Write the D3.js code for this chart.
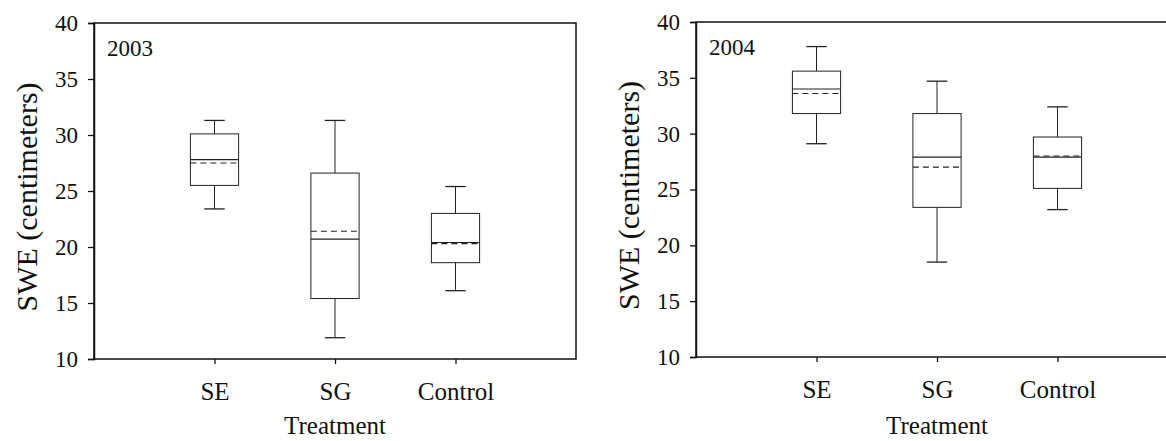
<!DOCTYPE html>
<html>
<head>
<meta charset="utf-8">
<script src="https://cdn.jsdelivr.net/npm/d3@7"></script>
<style>
  body { margin: 0; background: #fff; }
</style>
</head>
<body>
<svg id="chart" width="1166" height="441"></svg>
<script>
const categories = ["SE", "SG", "Control"];
const yTicks = [10, 15, 20, 25, 30, 35, 40];

// 2003
const lo2003 = [23.4, 11.9, 16.1];
const q1_2003 = [25.5, 15.4, 18.6];
const med2003 = [27.8, 20.7, 20.4];
const mean2003 = [27.5, 21.4, 20.3];
const q3_2003 = [30.1, 26.6, 23.0];
const hi2003 = [31.3, 31.3, 25.4];

// 2004
const lo2004 = [29.1, 18.5, 23.2];
const q1_2004 = [31.8, 23.4, 25.1];
const med2004 = [34.0, 27.9, 27.9];
const mean2004 = [33.6, 27.0, 28.0];
const q3_2004 = [35.6, 31.8, 29.7];
const hi2004 = [37.8, 34.7, 32.4];

const FONT = "'Liberation Serif', 'Times New Roman', Times, Tinos, 'Noto Serif', 'DejaVu Serif', FreeSerif, serif";
const svg = d3.select("svg#chart");

function toRows(lo, q1, med, mean, q3, hi) {
    return categories.map((c, i) => ({
        cat: c, pos: i + 1, lo: lo[i], q1: q1[i], med: med[i], mean: mean[i], q3: q3[i], hi: hi[i]
    }));
}

const panels = [
    {year: "2003", x0: 94, x1: 576, yTop: 23, yBot: 359,
     rows: toRows(lo2003, q1_2003, med2003, mean2003, q3_2003, hi2003)},
    {year: "2004", x0: 696, x1: 1178, yTop: 22, yBot: 357,
     rows: toRows(lo2004, q1_2004, med2004, mean2004, q3_2004, hi2004)}
];

panels.forEach(p => drawPanel(p));

function drawPanel(p) {
    const x = d3.scaleLinear().domain([0, 4]).range([p.x0, p.x1]);
    const y = d3.scaleLinear().domain([10, 40]).range([p.yBot, p.yTop]);
    const g = svg.append("g");
    const boxW = x(0.4) - x(0);
    const capW = x(0.17) - x(0);

    // frame
    g.append("rect")
        .attr("x", p.x0).attr("y", p.yTop)
        .attr("width", p.x1 - p.x0).attr("height", p.yBot - p.yTop)
        .attr("fill", "none").attr("stroke", "#111").attr("stroke-width", 1.5);

    const yAxis = g.append("g")
        .attr("transform", `translate(${p.x0},0)`)
        .call(d3.axisLeft(y).tickValues(yTicks).tickSize(6).tickPadding(10));
    yAxis.attr("font-family", null);
    yAxis.select(".domain").attr("stroke", "#111").attr("stroke-width", 1.5);
    yAxis.selectAll(".tick line").attr("stroke", "#111").attr("stroke-width", 1.3);
    yAxis.selectAll("text").style("font-family", FONT).style("font-size", "23px").attr("fill", "#111");

    const xAxis = g.append("g")
        .attr("transform", `translate(0,${p.yBot})`)
        .call(d3.axisBottom(x).tickValues([1, 2, 3]).tickFormat(d => categories[d - 1]).tickSize(5).tickPadding(18));
    xAxis.attr("font-family", null);
    xAxis.select(".domain").remove();
    xAxis.selectAll(".tick line").attr("stroke", "#111").attr("stroke-width", 1.3);
    xAxis.selectAll("text").style("font-family", FONT).style("font-size", "25px").attr("fill", "#111");

    // year label
    g.append("text")
        .attr("x", p.x0 + 13).attr("y", p.yTop + 33)
        .style("font-family", FONT).style("font-size", "23px").attr("fill", "#111")
        .text(p.year);

    // axis titles
    g.append("text")
        .attr("transform", `translate(${p.x0 - 57},${(p.yTop + p.yBot) / 2 + 6}) rotate(-90)`)
        .attr("text-anchor", "middle")
        .style("font-family", FONT).style("font-size", "30px").attr("fill", "#111")
        .text("SWE (centimeters)");
    g.append("text")
        .attr("x", (p.x0 + p.x1) / 2).attr("y", 434)
        .attr("text-anchor", "middle")
        .style("font-family", FONT).style("font-size", "25px").attr("fill", "#111")
        .text("Treatment");

    const boxes = g.selectAll(".box").data(p.rows).enter().append("g").attr("class", "box");
    const stroke = "#222";

    // whiskers
    boxes.append("line")
        .attr("x1", d => x(d.pos)).attr("x2", d => x(d.pos))
        .attr("y1", d => y(d.hi)).attr("y2", d => y(d.q3))
        .attr("stroke", stroke);
    boxes.append("line")
        .attr("x1", d => x(d.pos)).attr("x2", d => x(d.pos))
        .attr("y1", d => y(d.q1)).attr("y2", d => y(d.lo))
        .attr("stroke", stroke);
    boxes.append("line")
        .attr("x1", d => x(d.pos) - capW / 2).attr("x2", d => x(d.pos) + capW / 2)
        .attr("y1", d => y(d.hi)).attr("y2", d => y(d.hi))
        .attr("stroke", stroke).attr("stroke-width", 1.3);
    boxes.append("line")
        .attr("x1", d => x(d.pos) - capW / 2).attr("x2", d => x(d.pos) + capW / 2)
        .attr("y1", d => y(d.lo)).attr("y2", d => y(d.lo))
        .attr("stroke", stroke).attr("stroke-width", 1.3);

    // box
    boxes.append("rect")
        .attr("x", d => x(d.pos) - boxW / 2).attr("width", boxW)
        .attr("y", d => y(d.q3)).attr("height", d => y(d.q1) - y(d.q3))
        .attr("fill", "none").attr("stroke", stroke);

    // median and mean
    boxes.append("line")
        .attr("x1", d => x(d.pos) - boxW / 2).attr("x2", d => x(d.pos) + boxW / 2)
        .attr("y1", d => y(d.med)).attr("y2", d => y(d.med))
        .attr("stroke", stroke).attr("stroke-width", 1.2);
    boxes.append("line")
        .attr("x1", d => x(d.pos) - boxW / 2).attr("x2", d => x(d.pos) + boxW / 2)
        .attr("y1", d => y(d.mean)).attr("y2", d => y(d.mean))
        .attr("stroke", stroke).attr("stroke-width", 1.1)
        .attr("stroke-dasharray", "6,4");
}
</script>
</body>
</html>
